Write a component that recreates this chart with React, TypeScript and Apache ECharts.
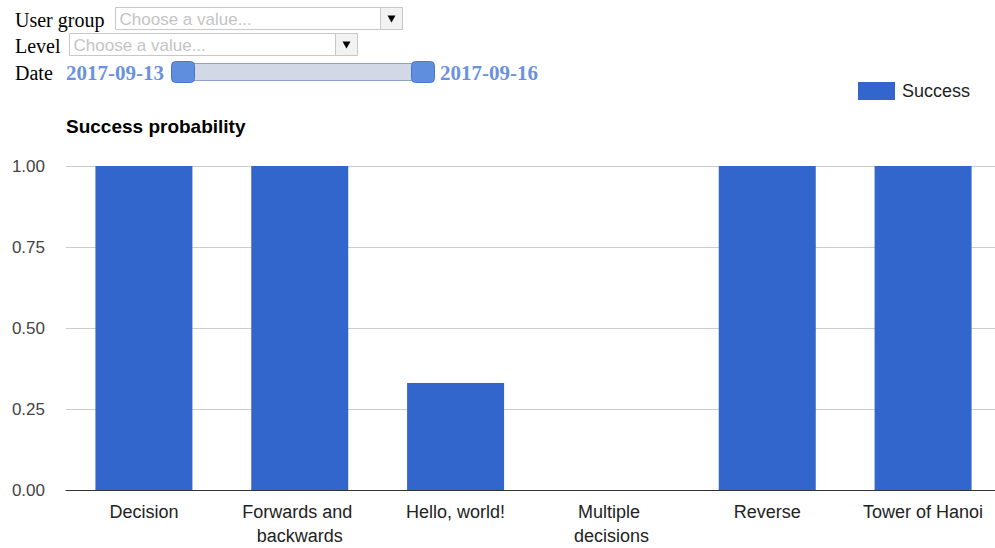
import React, { useEffect, useRef } from "react";
import * as echarts from "echarts";

const categories = ["Decision", "Forwards and backwards", "Hello, world!", "Multiple decisions", "Reverse", "Tower of Hanoi"];
const successValues = [1, 1, 0.33, 0, 1, 1];
const yTicks = [0, 0.25, 0.5, 0.75, 1];
const seriesName = "Success";
const chartTitle = "Success probability";
const dateFrom = "2017-09-13";
const dateTo = "2017-09-16";
const filterLabels = ["User group", "Level", "Date"];
const placeholder = "Choose a value...";

const SANS = "'Liberation Sans', Arial, sans-serif";
const SERIF = "'Liberation Serif', 'Times New Roman', serif";

function dropdown(x: number, y: number, w: number, h: number) {
  return [
    { type: "rect", shape: { x, y, width: w, height: h }, style: { fill: "#fff", stroke: "#c8c8c8", lineWidth: 1 } },
    { type: "text", x: x + 4, y: y + h / 2 + 1, style: { text: placeholder, fill: "#c4c4c4", font: `17px ${SANS}`, textVerticalAlign: "middle" } },
    { type: "rect", shape: { x: w + x - 22, y, width: 22, height: h }, style: { fill: "#f2f2f2", stroke: "#c8c8c8", lineWidth: 1 } },
    { type: "polygon", shape: { points: [[x + w - 15, y + h / 2 - 3], [x + w - 7, y + h / 2 - 3], [x + w - 11, y + h / 2 + 4]] }, style: { fill: "#000" } },
  ];
}

export default function App() {
  const ref = useRef<HTMLDivElement>(null);
  useEffect(() => {
    if (!ref.current) return;
    const chart = echarts.init(ref.current, null, { renderer: "svg" });
    const graphics: any[] = [
      { type: "text", x: 15, y: 20, style: { text: filterLabels[0], fill: "#000", font: `20px ${SERIF}`, textVerticalAlign: "middle" } },
      ...dropdown(115.5, 7.5, 287, 22),
      { type: "text", x: 15, y: 46, style: { text: filterLabels[1], fill: "#000", font: `20px ${SERIF}`, textVerticalAlign: "middle" } },
      ...dropdown(69.5, 33.5, 288, 22),
      { type: "text", x: 15, y: 73, style: { text: filterLabels[2], fill: "#000", font: `20px ${SERIF}`, textVerticalAlign: "middle" } },
      { type: "text", x: 66, y: 73, style: { text: dateFrom, fill: "#6a92de", font: `bold 21px ${SERIF}`, textVerticalAlign: "middle" } },
      { type: "rect", shape: { x: 183, y: 63.5, width: 240, height: 17 }, style: { fill: "#d2d8e6", stroke: "#8fa2cc", lineWidth: 1 } },
      { type: "rect", shape: { x: 171.5, y: 61.5, width: 23, height: 21, r: 4 }, style: { fill: "#5e8edd", stroke: "#4a78c9", lineWidth: 1 } },
      { type: "rect", shape: { x: 411.5, y: 61.5, width: 23, height: 21, r: 4 }, style: { fill: "#5e8edd", stroke: "#4a78c9", lineWidth: 1 } },
      { type: "text", x: 440, y: 73, style: { text: dateTo, fill: "#6a92de", font: `bold 21px ${SERIF}`, textVerticalAlign: "middle" } },
      { type: "text", x: 66, y: 126, style: { text: chartTitle, fill: "#000", font: `bold 19px ${SANS}`, textVerticalAlign: "middle" } },
    ];
    chart.setOption({
      animation: false,
      backgroundColor: "#fff",
      graphic: graphics,
      legend: {
        left: 858,
        top: 82,
        padding: 0,
        itemWidth: 37,
        itemHeight: 18,
        icon: "rect",
        itemGap: 5,
        textStyle: { fontSize: 18, color: "#222", fontFamily: SANS, padding: [0, 0, 0, 2] },
        data: [seriesName],
      },
      grid: { left: 66, right: 0, top: 166, bottom: 57, containLabel: false },
      xAxis: {
        type: "category",
        data: categories,
        axisLine: { lineStyle: { color: "#333", width: 1 } },
        axisTick: { show: false },
        axisLabel: {
          interval: 0,
          fontSize: 18,
          lineHeight: 24,
          color: "#222",
          fontFamily: SANS,
          margin: 10,
          width: 130,
          overflow: "break",
        },
      },
      yAxis: {
        type: "value",
        min: yTicks[0],
        max: yTicks[yTicks.length - 1],
        interval: 0.25,
        axisLine: { show: false },
        axisTick: { show: false },
        splitLine: { lineStyle: { color: "#cccccc", width: 1 } },
        axisLabel: {
          fontSize: 17,
          color: "#444",
          fontFamily: SANS,
          margin: 21,
          formatter: (v: number) => v.toFixed(2),
        },
      },
      series: [
        {
          name: seriesName,
          type: "bar",
          data: successValues,
          barWidth: 97,
          itemStyle: { color: "#3366cc" },
        },
      ],
    });
    return () => chart.dispose();
  }, []);
  return (
    <div style={{ position: "absolute", left: 0, top: 0, width: 995, height: 548, overflow: "hidden" }}>
      <div ref={ref} style={{ width: 1001, height: 548 }} />
    </div>
  );
}
